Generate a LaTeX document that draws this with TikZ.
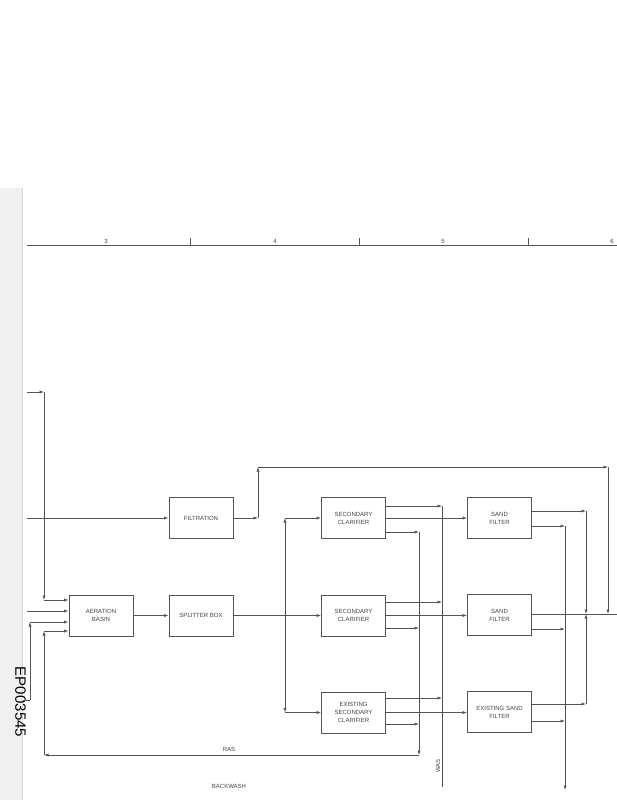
\documentclass[tikz,border=0pt]{standalone}
\usepackage{fontspec}
\setmainfont{Liberation Sans}
\usetikzlibrary{arrows.meta}
\definecolor{lc}{HTML}{555555}
\definecolor{tc}{HTML}{444444}
\begin{document}
\begin{tikzpicture}[x=1pt,y=-1pt,
  line/.style={draw=lc, line width=0.75pt},
  arr/.style={line, -{Latex[length=4.5pt,width=3.2pt]}},
  box/.style={draw=lc, line width=0.8pt, minimum width=64pt, minimum height=41pt, inner sep=0pt, align=center, font=\fontsize{6}{8}\selectfont, text=tc},
  lbl/.style={font=\fontsize{6}{7}\selectfont, text=tc, inner sep=0pt}]
\useasboundingbox (0,0) rectangle (617,800);
\fill[white] (0,0) rectangle (617,800);
\fill[gray!12] (0,188) rectangle (22,800);
\draw[gray!30, line width=0.6pt] (22.5,188) -- (22.5,800);
% ruler
\coordinate (r0) at (27,245);
\coordinate (r1) at (617,245);
\draw[line, line width=0.6pt] (r0) -- (r1);
\foreach \x in {190,359,528} \draw[line, line width=0.6pt] (\x,238) -- (\x,245);
\node[lbl, font=\fontsize{6}{7}\selectfont] (n3) at (106,241) {3};
\node[lbl, font=\fontsize{6}{7}\selectfont] (n4) at (275,241) {4};
\node[lbl, font=\fontsize{6}{7}\selectfont] (n5) at (443,241) {5};
\node[lbl, font=\fontsize{6}{7}\selectfont] (n6) at (612,241) {6};
% boxes
\node[box] (filt) at (201,518) {FILTRATION};
\node[box] (aer) at (101,615.5) {AERATION\\BASIN};
\node[box] (split) at (201,615.5) {SPLITTER BOX};
\node[box] (sc1) at (353.5,518) {SECONDARY\\CLARIFIER};
\node[box] (sc2) at (353.5,615.5) {SECONDARY\\CLARIFIER};
\node[box] (sc3) at (353.5,712.5) {EXISTING\\SECONDARY\\CLARIFIER};
\node[box] (sf1) at (499.5,518) {SAND\\FILTER};
\node[box] (sf2) at (499.5,615) {SAND\\FILTER};
\node[box] (sf3) at (499.5,712) {EXISTING SAND\\FILTER};
% side label
\node[font=\fontsize{15}{15}\selectfont, rotate=-90, inner sep=0pt] (ep) at (20.5,702) {EP003545};
% left inputs
\coordinate (a1) at (27,392);
\coordinate (a2) at (44,392);
\coordinate (a3) at (44,600);
\draw[arr] (a1) -- (a2);
\draw[arr] (a2) -- (a3);
\draw[arr] (a3) -- (a3 -| aer.west);
\coordinate (b1) at (27,611);
\draw[arr] (b1) -- (b1 -| aer.west);
\coordinate (c1) at (23,700);
\coordinate (c2) at (30,700);
\coordinate (c3) at (30,622);
\draw[line] (c1) -- (c2);
\draw[arr] (c2) -- (c3);
\draw[arr] (c3) -- (c3 -| aer.west);
% filtration
\coordinate (f0) at (27,518);
\draw[arr] (f0) -- (filt.west);
\coordinate (f1) at (258,518);
\coordinate (f2) at (258,467);
\coordinate (f3) at (608,467);
\coordinate (f4) at (608,614);
\draw[arr] (filt.east) -- (f1);
\draw[arr] (f1) -- (f2);
\draw[arr] (f2) -- (f3);
\draw[arr] (f3) -- (f4);
% aeration to splitter to clarifiers
\draw[arr] (aer.east) -- (split.west);
\draw[arr] (split.east) -- (sc2.west);
\coordinate (d0) at (285,615.5);
\coordinate (d1) at (285,518);
\coordinate (d2) at (285,712.5);
\draw[arr] (d0) -- (d1);
\draw[arr] (d1) -- (sc1.west);
\draw[arr] (d0) -- (d2);
\draw[arr] (d2) -- (sc3.west);
% clarifier upper outputs (WAS)
\coordinate (w1) at (442,506);
\coordinate (w2) at (442,602);
\coordinate (w3) at (442,698);
\coordinate (w4) at (442,787);
\draw[arr] (w1 -| sc1.east) -- (w1);
\draw[arr] (w2 -| sc2.east) -- (w2);
\draw[arr] (w3 -| sc3.east) -- (w3);
\draw[line] (w1) -- (w4);
% clarifier lower outputs (RAS)
\coordinate (s1) at (419,532);
\coordinate (s2) at (419,628);
\coordinate (s3) at (419,724);
\coordinate (s4) at (419,755);
\coordinate (s5) at (44,755);
\coordinate (s6) at (44,631);
\draw[arr] (s1 -| sc1.east) -- (s1);
\draw[arr] (s2 -| sc2.east) -- (s2);
\draw[arr] (s3 -| sc3.east) -- (s3);
\draw[arr] (s1) -- (s4);
\draw[arr] (s4) -- (s5);
\draw[arr] (s5) -- (s6);
\draw[arr] (s6) -- (s6 -| aer.west);
% clarifier to sand filter
\draw[arr] (sc1.east) -- (sf1.west);
\draw[arr] (sc2.east) -- (sc2.east -| sf2.west);
\draw[arr] (sc3.east) -- (sc3.east -| sf3.west);
% sand filter outputs
\coordinate (e1) at (586,511);
\coordinate (e2) at (586,614);
\coordinate (e3) at (586,704);
\draw[arr] (e1 -| sf1.east) -- (e1);
\draw[arr] (e1) -- (e2);
\draw[arr] (e3 -| sf3.east) -- (e3);
\draw[arr] (e3) -- (e2);
\coordinate (k1) at (565,526);
\coordinate (k2) at (565,629);
\coordinate (k3) at (565,721);
\coordinate (k4) at (565,790);
\draw[arr] (k1 -| sf1.east) -- (k1);
\draw[arr] (k2 -| sf2.east) -- (k2);
\draw[arr] (k3 -| sf3.east) -- (k3);
\draw[arr] (k1) -- (k4);
\coordinate (o1) at (617,614);
\draw[line] (sf2.east |- o1) -- (o1);
% labels
\node[lbl] (ras) at (229,749) {RAS};
\node[lbl] (bw) at (229,786) {BACKWASH};
\node[lbl, rotate=90] (was) at (438,766) {WAS};
\end{tikzpicture}
\end{document}
